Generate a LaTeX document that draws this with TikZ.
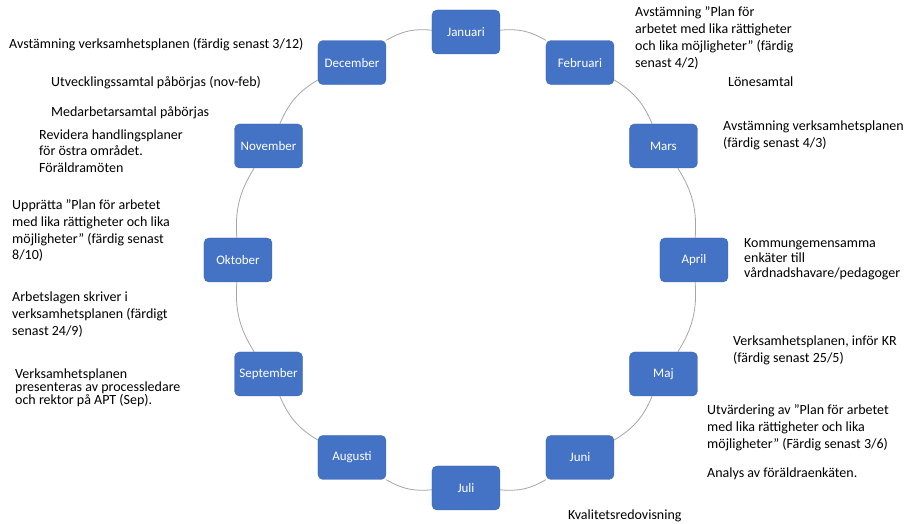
\documentclass[tikz,border=0pt]{standalone}
\usepackage{fontspec}
\setmainfont{Carlito}
\usepackage{xcolor}
\usepackage{tikz}
\usetikzlibrary{positioning}
\definecolor{monthblue}{HTML}{4472C4}
\definecolor{monthedge}{HTML}{3B64AD}
\definecolor{ringgray}{HTML}{A5A5A5}

\begin{document}
\begin{tikzpicture}[x=1pt, y=1pt,
  monthblock/.style={draw=monthedge, fill=monthblue, rounded corners=5pt, minimum width=68pt, minimum height=44pt, text=white, font=\fontsize{13}{15.6}\selectfont},
  note/.style={anchor=base west, align=left, inner sep=0pt, font=\fontsize{14}{16.7}\selectfont},
  ring/.style={draw=ringgray, line width=0.8pt}
]
  \useasboundingbox (-466,-264) rectangle (440,260);

  % Months round the year
  \foreach \m [count=\i] in {Januari,Februari,Mars,April,Maj,Juni,Juli,Augusti,September,Oktober,November,December}
    \node[monthblock] (m\i) at ({90-30*(\i-1)}:228) {\m};
  \foreach \a/\b in {1/2,2/3,3/4,4/5,5/6,6/7,7/8,8/9,9/10,10/11,11/12,12/1}
    \draw[ring] (m\a) to[bend left=18] (m\b);

  % Left side (base = last line)
  \node[note] (dec1) at (-457,211) {Avstämning verksamhetsplanen (färdig senast 3/12)};
  \node[note] (dec2) at (-415,173.5) {Utvecklingssamtal påbörjas (nov-feb)};
  \node[note] (dec3) at (-415,143.5) {Medarbetarsamtal påbörjas};
  \node[note] (nov1) at (-427,87.5) {Revidera handlingsplaner\\för östra området.\\Föräldramöten};
  \node[note] (okt1) at (-454,0) {Upprätta ”Plan för arbetet\\med lika rättigheter och lika\\möjligheter” (färdig senast\\8/10)};
  \node[note] (okt2) at (-454,-75.4) {Arbetslagen skriver i\\verksamhetsplanen (färdigt\\senast 24/9)};
  \node[note] (sep1) at (-451,-144.4) {Verksamhetsplanen\\[-4pt]presenteras av processledare\\[-4pt]och rektor på APT (Sep).};

  % Right side
  \node[note] (feb1) at (169,192.9) {Avstämning ”Plan för\\arbetet med lika rättigheter\\och lika möjligheter” (färdig\\senast 4/2)};
  \node[note] (feb2) at (262,173) {Lönesamtal};
  \node[note] (mar1) at (257,112.3) {Avstämning verksamhetsplanen\\(färdig senast 4/3)};
  \node[note] (apr1) at (278,-18) {Kommungemensamma\\[-1.7pt]enkäter till\\[-1.7pt]vårdnadshavare/pedagoger};
  \node[note] (maj1) at (267,-102.7) {Verksamhetsplanen, inför KR\\(färdig senast 25/5)};
  \node[note] (jun1) at (241,-188.4) {Utvärdering av ”Plan för arbetet\\med lika rättigheter och lika\\möjligheter” (Färdig senast 3/6)};
  \node[note] (jun2) at (241,-218) {Analys av föräldraenkäten.};
  \node[note] (jul1) at (102,-260) {Kvalitetsredovisning};
\end{tikzpicture}
\end{document}
